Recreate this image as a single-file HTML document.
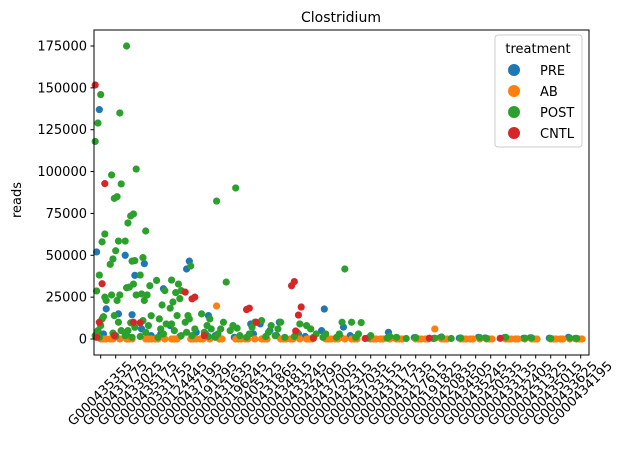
<!DOCTYPE html>
<html><head><meta charset="utf-8"><style>
body{margin:0;background:#fff}
svg{display:block;font-family:"DejaVu Sans","Liberation Sans",sans-serif}
</style></head><body>
<svg id="chart" width="628" height="450">
<rect x="0" y="0" width="628" height="450" fill="#fff"/>
<text x="341" y="22" text-anchor="middle" font-size="14">Clostridium</text>
<text transform="translate(21,200) rotate(-90)" text-anchor="middle" font-size="13">reads</text>
<g id="points"></g>
<rect x="94" y="30" width="495" height="325" fill="none" stroke="#000" stroke-width="1"/>
<g id="axes"></g>
<g>
<rect x="495" y="35" width="87" height="112" rx="3" fill="#fff" fill-opacity="0.8" stroke="#ccc"/>
<text x="538" y="53" text-anchor="middle" font-size="13">treatment</text>
<g><circle cx="514" cy="70" r="6" fill="#1f77b4"/><text x="540" y="75" font-size="13">PRE</text></g>
<g><circle cx="514" cy="91" r="6" fill="#ff7f0e"/><text x="540" y="96" font-size="13">AB</text></g>
<g><circle cx="514" cy="112" r="6" fill="#2ca02c"/><text x="540" y="117" font-size="13">POST</text></g>
<g><circle cx="514" cy="133" r="6" fill="#d62728"/><text x="540" y="138" font-size="13">CNTL</text></g>
</g>
</svg>
<script>
const categories=["G000435355","G000431775","G000433025","G000435175","G000331755","G000124445","G000437195","G000191295","G000431635","G000196245","G000405125","G000431865","G000434815","G000433245","G000434795","G000437005","G000432315","G000437035","G000433155","G000431175","G000431735","G000427615","G000191825","G000420835","G000434505","G000435245","G000430535","G000433135","G000432405","G000431325","G000435015","G000433625","G000434195"];
const yTicks=[0,25000,50000,75000,100000,125000,150000,175000];
const preValues=[[137000,52000,18000,3000,500],[15000,2000],[50000,38000,14500,1000],[45000,6000,2000],[30000,3000],[8000,1500],[46500,41800,4000],[14000,3000],[2000],[1000],[3000,9000],[9000,5000],[10000,2000],[3000],[1500],[17900,5000],[7100,1000],[2000],[1000],[4000],[500],[800],[300],[800],[500],[1000],[600],[800],[400],[700],[500],[1000],[300]];
const abValues=categories.map((c,i)=>i===8?[0,0,19700]:i===22?[0,0,6000]:[0,0,0]);
const postValues=[[146000,129000,118000,62700,58000,38200,28700,23000,13300,8000,5000,2000,25000,12000,1000,3000],[135000,85000,84000,98000,92600,58500,52700,47800,44600,26300,23000,14000,26300,5000,10000,1500,3500],[175000,101500,74700,73500,69300,58500,46800,46500,31000,30600,26300,32800,9700,5000,2000,7000,1000],[64500,48600,38200,31800,26300,23000,26900,13900,8000,4000,11000,1500],[28900,20300,12000,35000,9000,3000,6000,1000],[35200,28900,32800,27700,22100,18400,24100,14000,5000,9000,2000],[43600,14000,10000,6000,2000,12000,4000],[12000,8000,4000,15000,6000,1500],[82400,34000,10000,6000,3000,1000],[90200,8000,5000,2000,6500],[10000,7000,3000,1000],[11000,8000,4000,1500],[10000,6000,2000,1000],[9000,4000,1500],[8000,3000,1000,6000],[3000,1000],[41800,10000,3000,1000],[10000,9800,3000,1000],[2000,500],[1500,500],[1000,300],[800],[500],[1200,300],[600],[800],[400],[1000],[500],[700],[300],[600],[400]];
const cntlValues=[[151700,92800,33000,10000,1000],[2000],[10000],[9700],[],[],[28000,25000,24000],[2000],[],[],[18400,17600,10000],[],[],[34300,31800,19100,14300,4800],[500],[],[],[],[300],[],[],[],[500],[],[],[],[],[400],[],[],[],[],[]];
const ns="http://www.w3.org/2000/svg";
const X0=100.7,DX=15,Y0=339,YPX=293/175000;
const xPos=i=>X0+i*DX;
const yPos=v=>Y0-v*YPX;
const axes=document.getElementById('axes'),pts=document.getElementById('points');
function mk(tag,attrs,parent){const e=document.createElementNS(ns,tag);for(const k in attrs)e.setAttribute(k,attrs[k]);parent.appendChild(e);return e;}
yTicks.forEach(v=>{
  const y=yPos(v);
  const t=mk('line',{x1:90.5,x2:94,y1:y,y2:y,stroke:'#000'},axes);
  
  
  const l=mk('text',{x:87,y:y+4.5,'text-anchor':'end','font-size':'13'},axes);
  l.textContent=String(v);
  
  
});
categories.forEach((c,i)=>{
  const x=xPos(i);
  const t=mk('line',{x1:x,x2:x,y1:355,y2:358.5,stroke:'#000'},axes);
  
  
  const l=mk('text',{transform:`translate(${x},394) rotate(-45)`,'text-anchor':'middle','dominant-baseline':'central','font-size':'13'},axes);
  l.textContent=c;
  
  
});
const series=[[preValues,'#1f77b4','pre'],[abValues,'#ff7f0e','ab'],[postValues,'#2ca02c','post'],[cntlValues,'#d62728','cntl']];
series.forEach(([vals,col,nm],s)=>{
  vals.forEach((arr,i)=>{
    arr.forEach((v,k)=>{
      const off=(((k*7+i*3+s*5+3)%9)-4)/4*5.5;
      const p=mk('circle',{cx:xPos(i)+off,cy:yPos(v),r:3.6,fill:col},pts);
      
      
    });
  });
});
</script>
</body></html>
